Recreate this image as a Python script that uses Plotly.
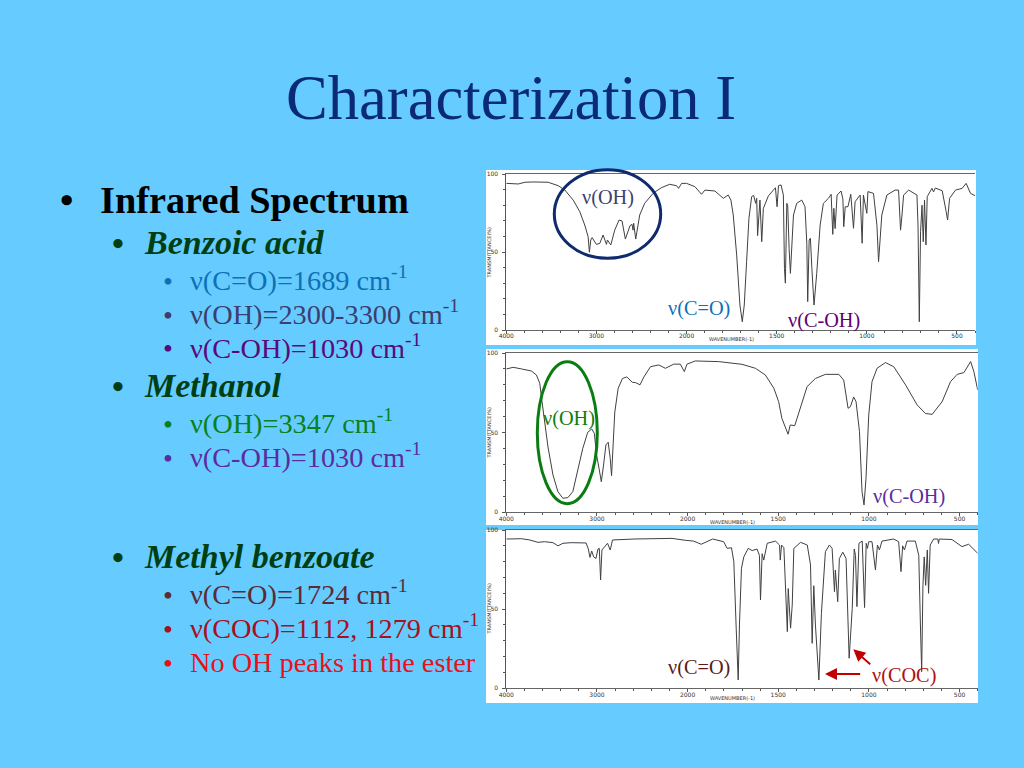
import numpy as np
import plotly.graph_objects as go

W, H = 1024, 768
BG = "#66CCFF"
SERIF = "Liberation Serif"

TITLE = "Characterization I"
TICK_WN = [4000, 3000, 2000, 1500, 1000, 500]
TICK_T = [0, 50, 100]
MINOR_WN = [3800, 3600, 3400, 3200, 2800, 2600, 2400, 2200, 1900, 1800, 1700, 1600,
            1400, 1300, 1200, 1100, 900, 800, 700, 600, 400]
MINOR_T = [10, 20, 30, 40, 60, 70, 80, 90]

benzoic_wn = [4000,3867,3793,3701,3535,3424,3350,3258,3185,3130,3092,3078,3063,3048,3000,2963,2926,2889,2878,2841,2797,2749,2716,2679,2627,2605,2594,2587,2564,2520,2465,2372,2280,2188,2111,2089,2055,2000,1954,1917,1898,1843,1796,1769,1754,1741,1722,1704,1691,1680,1667,1654,1639,1628,1617,1611,1606,1598,1593,1583,1574,1546,1518,1507,1498,1490,1476,1463,1457,1452,1444,1439,1431,1424,1407,1389,1361,1343,1333,1328,1320,1313,1305,1293,1278,1259,1241,1213,1198,1189,1183,1176,1165,1143,1133,1128,1120,1105,1089,1074,1065,1037,1026,1019,1000,994,963,944,935,917,889,843,824,813,805,796,768,722,716,709,702,694,687,680,672,665,639,630,620,582,560,552,541,508,471,449,425,400]
benzoic_t = [94,93.6,94.7,94.9,94.7,92.5,89.7,83.3,75.9,67.3,59.8,49.8,57.7,59.2,54.9,55.5,60.9,54.9,57.7,54.5,64,70.5,69.9,58.3,66.9,67.7,64,68.4,58.3,73.7,81.2,87.6,91.2,93.4,92.5,90.8,94,94,91.9,87,89.7,89.1,84.4,86.5,83.3,73.7,48,16,5.3,16,43.8,71.6,85.5,86.3,81.2,84.4,60.5,73.7,83.3,56.6,78,86,89.7,91.2,79,92.5,93,86.5,39.5,30,81.2,80,52,36.3,73.7,81.2,83.3,79,55.6,18.2,57.7,58.8,39.5,16,36.3,67.3,81.2,84.4,87,61.3,78,65,86.5,89.1,84,66.2,79,79,87,65.2,82.3,86.5,55.6,86.5,74.8,88.7,87.6,67,43.8,73.7,86.5,89.7,89.7,64,73.7,86.5,89.7,86.5,67,5.3,63,80,56.6,83.3,54.5,85.5,90.8,88.5,91,89.3,75.9,70.5,84.4,89.7,90.8,94,87.6,86.1]

methanol_wn = [4000,3923,3832,3723,3668,3631,3606,3577,3540,3485,3431,3376,3321,3266,3212,3157,3102,3058,3029,3004,2974,2952,2927,2901,2876,2854,2839,2828,2803,2766,2719,2671,2609,2573,2525,2482,2409,2318,2245,2153,2080,2036,2007,1958,1829,1700,1626,1571,1524,1498,1480,1446,1434,1409,1378,1341,1295,1240,1166,1139,1115,1102,1084,1071,1052,1038,1027,1016,1001,983,955,909,863,798,734,688,651,596,550,513,476,439,421,400]
methanol_t = [90,91,90,88.7,86.2,81,69.5,58,41,23.4,13,8.8,9.2,13,25.5,40,50.2,52.3,49.6,36,26.6,19.2,29.7,42.3,44,34,23,34,63,77.8,84,85,81.6,81.4,80,85,91.4,92.5,90.4,93,93,88.3,93,95,94.6,92.9,90.4,86.2,77.8,69.5,59,49,54.8,54.4,65.3,78.9,84,86.6,86.6,83,65.3,66.3,72.4,69.5,50.6,13,4.6,21.3,61,82,90.4,94,91.4,80,67.4,62,61.5,69.5,82,86.6,87.7,94.6,88.3,76.8]

ester_wn = [4000,3832,3741,3650,3577,3485,3430,3375,3284,3120,3095,3077,3058,3036,3011,2989,2974,2960,2945,2883,2854,2828,2591,2172,2026,1967,1925,1862,1801,1782,1758,1745,1732,1721,1714,1703,1690,1666,1644,1617,1604,1598,1589,1580,1561,1515,1493,1489,1482,1469,1450,1445,1432,1423,1414,1377,1340,1322,1313,1304,1295,1276,1262,1240,1218,1203,1190,1185,1172,1163,1144,1126,1109,1092,1081,1074,1066,1055,1037,1024,1015,1008,1001,983,964,953,942,928,863,836,823,814,804,790,744,725,716,709,702,695,687,678,671,662,643,620,616,612,542,487,450,400]
ester_t = [94.3,94.5,93.7,92.2,92.6,92,90,91.6,92,91.8,88,82.7,86.7,83,82,88,88.4,68.4,87.4,91.6,87.4,93.7,94.3,94.7,93.5,93,91,94.3,92.6,88.4,88.8,80,38,5.3,40,75.8,83,88.4,87,88,84,55.8,85,81,91.6,93,90.5,81,90.5,88.8,35.8,63,38,52.6,88.4,92.2,90.5,77.9,28.4,64.8,40,5.3,47.4,86.3,90.5,88.4,61,74.7,54.7,82,86,82,19,50.5,88,84,51.6,91.6,93,51,91.6,88.4,92.6,92.6,74.7,90.5,87.4,93,94.3,92.6,73.7,90,87.4,93,93,84,40,10.5,65,83,65,87.4,60,90.5,94.3,94.3,91.5,94.3,94,89.5,91,85.3]


def pos(wn):
    """Instrument's split abscissa: the scale doubles below 2000 cm-1."""
    return np.interp(-np.asarray(wn, dtype=float), [-4000, -2000, -400], [0, 2, 5.2])


def px(x):
    return x / W


def py(y):
    return 1 - y / H


fig = go.Figure()

panels = [
    (benzoic_wn, benzoic_t, 486, 976, 170, 345, 506.3, 975, 174, 330),
    (methanol_wn, methanol_t, 486, 978, 349, 525, 506.3, 977.7, 353, 512.3),
    (ester_wn, ester_t, 486, 978, 530, 703, 506.3, 977.7, 530, 688.3),
]
shapes = []
layout_axes = {}
for i, (wn, t, cl, cr, ct, cb, l, r, top, bot) in enumerate(panels, start=1):
    shapes.append(dict(type="rect", xref="paper", yref="paper", layer="below",
                       x0=px(cl), x1=px(cr), y0=py(cb), y1=py(ct),
                       fillcolor="white", line_width=0))
    sx = "" if i == 1 else str(i)
    fig.add_trace(go.Scatter(x=pos(wn), y=t, mode="lines", xaxis="x" + sx, yaxis="y" + sx,
                             line=dict(color="#404040", width=1), showlegend=False,
                             hoverinfo="skip"))
    layout_axes["xaxis" + sx] = dict(
        domain=[px(l), px(r)], anchor="y" + sx, range=[0, 5.2], tickmode="array",
        tickvals=pos(TICK_WN).tolist(), ticktext=[str(v) for v in TICK_WN],
        ticks="outside", ticklen=3, tickwidth=1, tickcolor="#555", showgrid=False, zeroline=False,
        showline=True, linecolor="#666", linewidth=1, mirror=True, automargin=False,
        ticklabelstandoff=-3,
        tickfont=dict(family="DejaVu Sans", size=6, color="#333"),
        minor=dict(tickmode="array", tickvals=pos(MINOR_WN).tolist(), ticks="outside", ticklen=2,
                   tickcolor="#555", showgrid=False),
    )
    layout_axes["yaxis" + sx] = dict(
        domain=[py(bot), py(top)], anchor="x" + sx, range=[0, 100], tickmode="array",
        tickvals=TICK_T, ticktext=[str(v) for v in TICK_T], automargin=False,
        ticks="outside", ticklen=3, tickwidth=1, tickcolor="#555", showgrid=False, zeroline=False,
        showline=True, linecolor="#555", linewidth=1, ticklabelstandoff=3,
        tickfont=dict(family="DejaVu Sans", size=6, color="#333"),
        minor=dict(tickmode="array", tickvals=MINOR_T, ticks="outside", ticklen=2,
                   tickcolor="#555", showgrid=False),
    )

for x0, x1, y0, y1, c in [(554.3, 660.7, 169.7, 258.3, "#0f2a6e"), (537.3, 597.3, 361.7, 503.7, "#0a7d12")]:
    shapes.append(dict(type="circle", xref="paper", yref="paper", x0=px(x0), x1=px(x1),
                       y0=py(y1), y1=py(y0), line=dict(color=c, width=3), fillcolor="rgba(0,0,0,0)"))

ann = []


def label(x, y, text, size, color, bold=False, italic=False):
    if bold:
        text = "<b>" + text + "</b>"
    if italic:
        text = "<i>" + text + "</i>"
    ann.append(dict(x=px(x), y=py(y), xref="paper", yref="paper", xanchor="left", yanchor="middle",
                    text=text, showarrow=False, align="left",
                    font=dict(family=SERIF, size=size, color=color),
                    borderpad=0, borderwidth=0))


label(286, 98, TITLE, 62.6, "#0a2a78")

GREEN = "#003f14"
CM = " cm<sup>-1</sup>"
SUB = 28.3
items = [
    (60, 100, 200, 200, "Infrared Spectrum", 38.3, "#000000", True, False),
    (112, 144, 243, 242, "Benzoic acid", 34, GREEN, True, True),
    (163, 190, 281, 278, "ν(C=O)=1689" + CM, SUB, "#0f70b7", False, False),
    (163, 190, 315, 312, "ν(OH)=2300-3300" + CM, SUB, "#3d3d70", False, False),
    (163, 190, 349, 346, "ν(C-OH)=1030" + CM, SUB, "#5a0a78", False, False),
    (112, 144, 386, 385, "Methanol", 34, GREEN, True, True),
    (163, 190, 424, 421, "ν(OH)=3347" + CM, SUB, "#0a8020", False, False),
    (163, 190, 458, 455, "ν(C-OH)=1030" + CM, SUB, "#5b2c9f", False, False),
    (112, 144, 557, 556, "Methyl benzoate", 34, GREEN, True, True),
    (163, 190, 595, 592, "ν(C=O)=1724" + CM, SUB, "#5c2a35", False, False),
    (163, 190, 629, 626, "ν(COC)=1112, 1279" + CM, SUB, "#a80f20", False, False),
    (163, 190, 663, 662, "No OH peaks in the ester", SUB, "#e8101a", False, False),
]
for bx, tx, by, ty, text, size, color, b, it in items:
    label(bx, by, "•", size, color, bold=b)
    label(tx, ty, text, size, color, bold=b, italic=it)

for x, y, text, c in [
    (582, 197, "ν(OH)", "#3f3f6f"), (668, 308, "ν(C=O)", "#0f70b7"), (788, 320, "ν(C-OH)", "#600070"),
    (543, 418, "ν(OH)", "#0a800a"), (873, 496, "ν(C-OH)", "#5b2c9f"),
    (668, 667, "ν(C=O)", "#5c1a1a"), (872, 675, "ν(COC)", "#b01010"),
]:
    label(x, y, text, 20.3, c)

for xc, yc, yt_c in [(731, 339, 253), (732, 522, 433), (732, 698, 609)]:
    ann.append(dict(x=px(xc), y=py(yc), xref="paper", yref="paper", xanchor="center", yanchor="middle",
                    text="WAVENUMBER(-1)", showarrow=False,
                    font=dict(family="DejaVu Sans", size=5, color="#333")))
    ann.append(dict(x=px(488.5), y=py(yt_c), xref="paper", yref="paper", xanchor="center", yanchor="middle",
                    text="TRANSMITTANCE(%)", showarrow=False,
                    textangle=-90, font=dict(family="DejaVu Sans", size=5, color="#333")))

for x1, y1, x0, y0 in [(825, 674, 861.7, 674), (853.3, 649.3, 871.7, 665.7)]:
    ann.append(dict(x=px(x1), y=py(y1), xref="paper", yref="paper", text="", showarrow=True,
                    axref="pixel", ayref="pixel", ax=x0 - x1, ay=y0 - y1, arrowhead=2, arrowsize=1.2,
                    arrowwidth=2, arrowcolor="#c00000"))

fig.update_layout(width=W, height=H, autosize=False, margin=dict(l=0, r=0, t=0, b=0, autoexpand=False),
                  paper_bgcolor=BG, plot_bgcolor="rgba(0,0,0,0)", shapes=shapes, annotations=ann,
                  showlegend=False, **layout_axes)
fig.write_html("out.html", config={"displayModeBar": False},
               post_script="document.body.style.margin='0';document.body.style.overflow='hidden';")
